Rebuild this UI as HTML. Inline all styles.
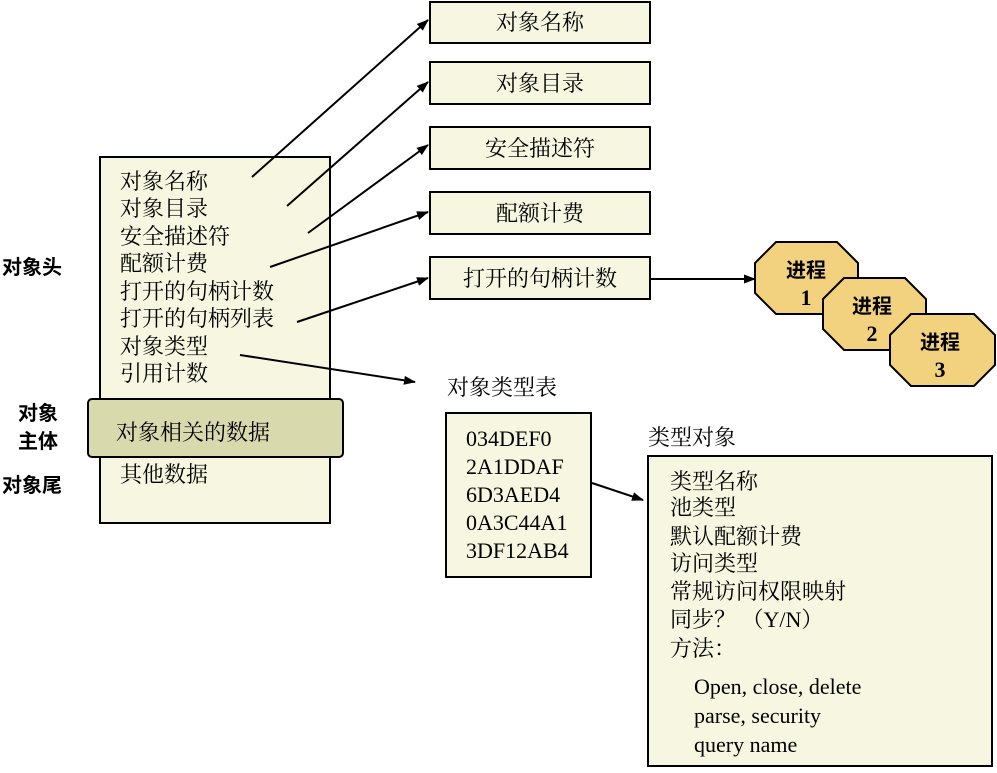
<!DOCTYPE html>
<html><head><meta charset="utf-8"><style>
body{margin:0;background:#fff}
text{font-family:"Liberation Serif","Noto Serif CJK SC",serif;font-size:22px;fill:#000}
.b{font-family:"Liberation Sans","Noto Sans CJK SC",sans-serif;font-weight:bold;font-size:20px}
.n{font-family:"Liberation Serif",serif;font-weight:bold;font-size:22px}
</style></head><body>
<svg width="997" height="768" xmlns="http://www.w3.org/2000/svg">
<defs><marker id="a" markerWidth="12" markerHeight="9" refX="11" refY="4.5" orient="auto" markerUnits="userSpaceOnUse"><path d="M0,0 L12,4.5 L0,9z" fill="#000"/></marker></defs>
<g fill="#f7f7e1" stroke="#000" stroke-width="2">
<rect x="100" y="157" width="230" height="366"/>
<rect x="430" y="2" width="220" height="41"/>
<rect x="430" y="62" width="220" height="42"/>
<rect x="430" y="127" width="220" height="42"/>
<rect x="430" y="192" width="220" height="42"/>
<rect x="430" y="257" width="220" height="42"/>
<rect x="446" y="413" width="145" height="164"/>
<rect x="648" y="456" width="344" height="310"/>
</g>
<rect x="88" y="399" width="255" height="58" rx="4" fill="#d9d9ae" stroke="#000" stroke-width="2"/>
<g stroke="#000" stroke-width="2" marker-end="url(#a)">
<line x1="252" y1="177" x2="428" y2="20"/>
<line x1="287" y1="206" x2="428" y2="82"/>
<line x1="308" y1="233" x2="428" y2="145"/>
<line x1="270" y1="267" x2="428" y2="212"/>
<line x1="297" y1="322" x2="428" y2="278"/>
<line x1="240" y1="355" x2="415" y2="382"/>
<line x1="650" y1="279" x2="755" y2="279"/>
<line x1="592" y1="483" x2="643" y2="500"/>
</g>
<g fill="#f2d27e" stroke="#000" stroke-width="2">
<polygon points="776,242 837,242 858,263 858,293 837,314 776,314 755,293 755,263"/>
<polygon points="844,278 905,278 926,299 926,329 905,350 844,350 823,329 823,299"/>
<polygon points="911,314 974,314 995,335 995,365 974,386 911,386 890,365 890,335"/>
</g>
<g text-anchor="middle">
<text class="b" x="806" y="277">进程</text><text class="n" x="806" y="305">1</text>
<text class="b" x="872" y="313">进程</text><text class="n" x="872" y="341">2</text>
<text class="b" x="940" y="349">进程</text><text class="n" x="940" y="377">3</text>
</g>
<text class="b" x="2" y="274">对象头</text>
<text class="b" x="18" y="420">对象</text>
<text class="b" x="18" y="448">主体</text>
<text class="b" x="2" y="492">对象尾</text>
<g>
<text x="120" y="189">对象名称</text>
<text x="120" y="216">对象目录</text>
<text x="120" y="244">安全描述符</text>
<text x="120" y="271">配额计费</text>
<text x="120" y="299">打开的句柄计数</text>
<text x="120" y="326">打开的句柄列表</text>
<text x="120" y="354">对象类型</text>
<text x="120" y="381">引用计数</text>
<text x="116" y="440">对象相关的数据</text>
<text x="120" y="482">其他数据</text>
</g>
<g text-anchor="middle">
<text x="540" y="30">对象名称</text>
<text x="540" y="91">对象目录</text>
<text x="540" y="156">安全描述符</text>
<text x="540" y="221">配额计费</text>
<text x="540" y="286">打开的句柄计数</text>
</g>
<text x="447" y="395">对象类型表</text>
<text x="466" y="446">034DEF0</text>
<text x="466" y="474">2A1DDAF</text>
<text x="466" y="502">6D3AED4</text>
<text x="466" y="530">0A3C44A1</text>
<text x="466" y="558">3DF12AB4</text>
<text x="648" y="445">类型对象</text>
<text x="670" y="489">类型名称</text>
<text x="670" y="515">池类型</text>
<text x="670" y="544">默认配额计费</text>
<text x="670" y="571">访问类型</text>
<text x="670" y="599">常规访问权限映射</text>
<text x="670" y="627">同步？ （Y/N）</text>
<text x="670" y="656">方法：</text>
<text x="694" y="694">Open, close, delete</text>
<text x="694" y="723">parse, security</text>
<text x="694" y="752">query name</text>
</svg>
</body></html>
